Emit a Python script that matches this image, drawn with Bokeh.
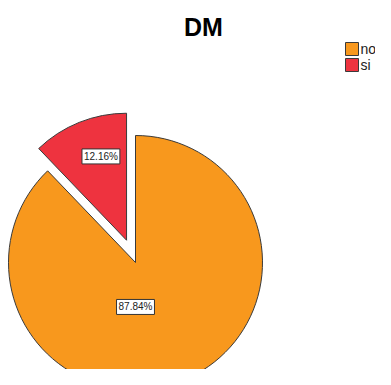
import math
from bokeh.plotting import figure
from bokeh.models import Label, ColumnDataSource
from bokeh.core.properties import value
from bokeh.embed import file_html
from bokeh.resources import INLINE

categories = ["no", "si"]
percentages = [87.84, 12.16]
colors = ["#F8981D", "#EE333F"]
title_text = "DM"

W, H = 375, 369
p = figure(width=W, height=H, x_range=(0, W), y_range=(0, H),
           output_backend="svg", toolbar_location=None, min_border=0)
p.axis.visible = False
p.grid.visible = False
p.outline_line_color = None
p.background_fill_color = "white"

cx, cy, R = 135, 107, 127
explode = [0, 24]
label_angle = [270, 107]
label_frac = [0.35, 0.69]

for i, (cat, pct) in enumerate(zip(categories, percentages)):
    if cat == "si":
        a0 = math.radians(90)
        a1 = a0 + 2 * math.pi * pct / 100
    else:
        a0 = math.radians(90) + 2 * math.pi * percentages[1] / 100
        a1 = a0 + 2 * math.pi * pct / 100
    mid = (a0 + a1) / 2
    ox = cx + explode[i] * math.cos(mid)
    oy = cy + explode[i] * math.sin(mid)
    src = ColumnDataSource(dict(x=[ox], y=[oy]))
    p.wedge(x="x", y="y", radius=R, start_angle=a0, end_angle=a1,
            direction="anticlock", source=src, fill_color=colors[i],
            line_color="#3a3a3a", line_width=1)
    la = math.radians(label_angle[i])
    lx = ox + label_frac[i] * R * math.cos(la)
    ly = oy + label_frac[i] * R * math.sin(la)
    p.add_layout(Label(x=lx, y=ly, text=f"{pct:.2f}%", text_align="center",
                       text_baseline="middle", text_font="Liberation Sans",
                       text_font_size="10px", text_color="#222222",
                       background_fill_color="white", border_line_color="#333333",
                       border_line_width=1, padding=2))

p.add_layout(Label(x=203, y=H - 12, text=title_text, text_align="center",
                   text_baseline="top", text_font="Liberation Sans",
                   text_font_size="25px", text_font_style="bold", text_color="black"))

# manual legend
lg_x, lg_top, sq, row = 345, 320.5, 13, 16
leg = ColumnDataSource(dict(
    x=[lg_x + sq / 2] * len(categories),
    y=[lg_top - i * row for i in range(len(categories))],
    tx=[lg_x + sq + 2] * len(categories),
    label=categories, color=colors))
p.rect(x="x", y="y", width=sq, height=sq, source=leg, fill_color="color",
       line_color="#3a3a3a", line_width=1)
p.text(x="tx", y="y", text="label", source=leg, text_baseline="middle",
       text_font=value("Liberation Sans"), text_font_size="14px", text_color="#222222")

open("out.html", "w").write(file_html(p, INLINE))
